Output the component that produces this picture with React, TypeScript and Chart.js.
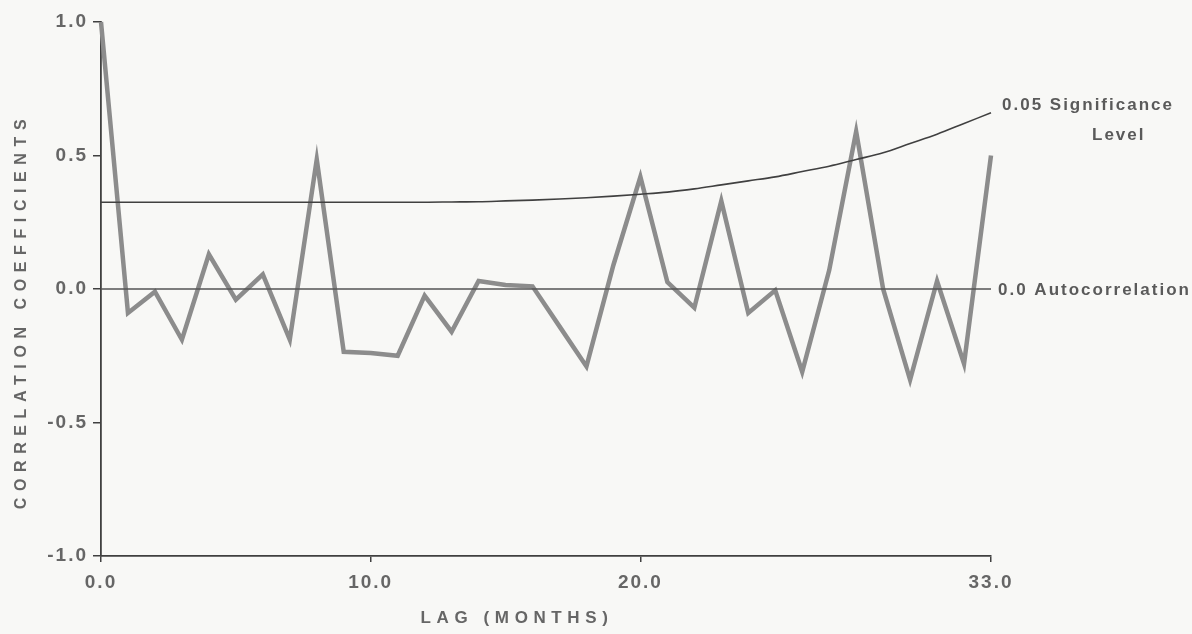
import React, { useEffect, useRef } from "react";
import { Chart, registerables } from "chart.js";

Chart.register(...registerables);

// Lag in months (0..33)
const lags = [
  0, 1, 2, 3, 4, 5, 6, 7, 8, 9, 10, 11, 12, 13, 14, 15, 16, 17, 18, 19, 20,
  21, 22, 23, 24, 25, 26, 27, 28, 29, 30, 31, 32, 33,
];

// Autocorrelation coefficients
const acf = [
  1.0, -0.09, -0.01, -0.19, 0.13, -0.04, 0.055, -0.19, 0.485, -0.235, -0.24,
  -0.25, -0.025, -0.16, 0.03, 0.015, 0.01, -0.14, -0.29, 0.09, 0.42, 0.026,
  -0.07, 0.33, -0.09, -0.005, -0.31, 0.07, 0.59, 0.0, -0.34, 0.03, -0.28, 0.5,
];

// 0.05 significance level curve
const sig = [
  0.325, 0.325, 0.325, 0.325, 0.325, 0.325, 0.325, 0.325, 0.325, 0.325, 0.325,
  0.325, 0.325, 0.326, 0.327, 0.33, 0.333, 0.337, 0.342, 0.348, 0.355, 0.363,
  0.375, 0.39, 0.405, 0.42, 0.44, 0.46, 0.485, 0.51, 0.545, 0.58, 0.62, 0.66,
];

// zero autocorrelation reference
const zeroLine = [0, 0];
const zeroLags = [0, 33];

const xTicks = [0, 10, 20, 33];
const xTickLabels = ["0.0", "10.0", "20.0", "33.0"];
const yTicks = [-1, -0.5, 0, 0.5, 1];
const yTickLabels = ["-1.0", "-0.5", "0.0", "0.5", "1.0"];

const xTitle = "LAG (MONTHS)";
const yTitle = "CORRELATION COEFFICIENTS";
const sigLabel = ["0.05 Significance", "Level"];
const zeroLabel = "0.0 Autocorrelation";

const FONT = '"Liberation Sans", Arial, Helvetica, sans-serif';
const TEXT = "#5a5a5a";
const INK = "#404040";

const paperPlugin = {
  id: "paper",
  beforeUpdate(chart: any) {
    chart.ctx.letterSpacing = "2px";
  },
  beforeDraw(chart: any) {
    const { ctx, width, height } = chart;
    ctx.save();
    ctx.fillStyle = "#f8f8f6";
    ctx.fillRect(0, 0, width, height);
    ctx.restore();
    ctx.letterSpacing = "2px";
  },
  afterDraw(chart: any) {
    const { ctx } = chart;
    const x = chart.scales.x;
    const y = chart.scales.y;
    const xEnd = x.getPixelForValue(lags[lags.length - 1]);
    const ySig = y.getPixelForValue(sig[sig.length - 1]);
    ctx.save();
    ctx.fillStyle = TEXT;
    ctx.textBaseline = "middle";
    ctx.textAlign = "left";
    ctx.font = `bold 17px ${FONT}`;
    ctx.letterSpacing = "2px";
    ctx.fillText(sigLabel[0], xEnd + 11, ySig - 7);
    ctx.fillText(sigLabel[1], xEnd + 101, ySig + 23);
    ctx.fillText(zeroLabel, xEnd + 7, y.getPixelForValue(0) + 1);

    // axis titles
    ctx.fillStyle = "#666666";
    ctx.textAlign = "center";
    ctx.font = `bold 17px ${FONT}`;
    ctx.letterSpacing = "5.6px";
    ctx.fillText(xTitle, 517, 618);

    ctx.font = `bold 16px ${FONT}`;
    ctx.letterSpacing = "6.6px";
    ctx.translate(22, 311);
    ctx.rotate(-Math.PI / 2);
    ctx.fillText(yTitle, 0, 0);
    ctx.restore();
  },
};

export default function App() {
  const ref = useRef<HTMLCanvasElement | null>(null);

  useEffect(() => {
    if (!ref.current) return;
    const chart = new Chart(ref.current, {
      type: "line",
      data: {
        datasets: [
          {
            data: lags.map((l, i) => ({ x: l, y: sig[i] })),
            borderColor: INK,
            borderWidth: 1.6,
            pointRadius: 0,
            cubicInterpolationMode: "monotone",
            clip: false,
          } as any,
          {
            data: zeroLags.map((l, i) => ({ x: l, y: zeroLine[i] })),
            borderColor: "#555555",
            borderWidth: 1.6,
            pointRadius: 0,
            clip: false,
          },
          {
            data: lags.map((l, i) => ({ x: l, y: acf[i] })),
            borderColor: "#8c8c8c",
            borderWidth: 4.5,
            borderJoinStyle: "miter",
            pointRadius: 0,
            tension: 0,
            clip: false,
          },
        ],
      },
      options: {
        animation: false,
        responsive: false,
        devicePixelRatio: 1,
        events: [],
        layout: { padding: { top: 22, right: 201, left: 0, bottom: 0 } },
        plugins: { legend: { display: false }, tooltip: { enabled: false } },
        scales: {
          x: {
            type: "linear",
            min: 0,
            max: 33,
            afterBuildTicks: (s: any) => {
              s.ticks = xTicks.map((v) => ({ value: v }));
            },
            afterFit: (s: any) => {
              s.height = 78;
            },
            ticks: {
              autoSkip: false,
              maxRotation: 0,
              padding: 9,
              color: "#666666",
              font: { family: FONT, size: 19, weight: "bold" },
              callback: (v: any) => xTickLabels[xTicks.indexOf(Number(v))] ?? "",
            },
            grid: {
              display: true,
              drawOnChartArea: false,
              drawTicks: true,
              tickLength: 6,
              color: INK,
              lineWidth: 1.5,
            },
            border: { display: true, color: INK, width: 1.8 },
          },
          y: {
            type: "linear",
            min: -1,
            max: 1,
            afterBuildTicks: (s: any) => {
              s.ticks = yTicks.map((v) => ({ value: v }));
            },
            afterFit: (s: any) => {
              s.width = 101;
            },
            ticks: {
              autoSkip: false,
              padding: 5,
              color: "#666666",
              font: { family: FONT, size: 19, weight: "bold" },
              callback: (v: any) => yTickLabels[yTicks.indexOf(Number(v))] ?? "",
            },
            grid: {
              display: true,
              drawOnChartArea: false,
              drawTicks: true,
              tickLength: 8,
              color: INK,
              lineWidth: 1.5,
            },
            border: { display: true, color: INK, width: 1.8 },
          },
        },
      } as any,
      plugins: [paperPlugin],
    });
    return () => chart.destroy();
  }, []);

  return (
    <div
      style={{
        position: "fixed",
        left: 0,
        top: 0,
        width: 1192,
        height: 634,
        background: "#f8f8f6",
      }}
    >
      <canvas ref={ref} width={1192} height={634} style={{ display: "block" }} />
    </div>
  );
}
